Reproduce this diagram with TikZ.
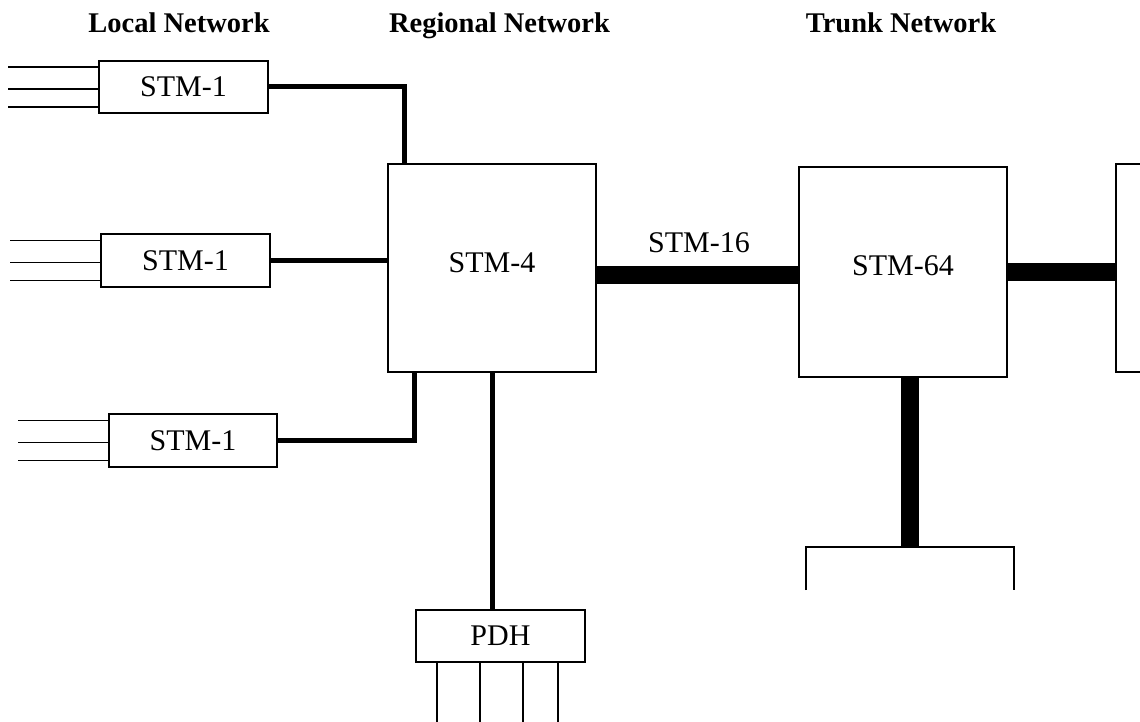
\documentclass[tikz,border=0pt]{standalone}
\usepackage{fontspec}
\setmainfont{Liberation Serif}
\usetikzlibrary{calc}

\tikzset{
  box/.style={draw=black, line width=1.5pt, fill=white, rectangle, inner sep=0pt,
              font=\fontsize{30}{32}\selectfont},
  hdr/.style={anchor=base, inner sep=0pt, font=\bfseries\fontsize{28.5}{30}\selectfont},
  lbl/.style={anchor=base, inner sep=0pt, font=\fontsize{30}{32}\selectfont},
  link/.style={line width=5pt, line join=miter},
  bar/.style={line width=18pt},
  wire/.style={line width=1.5pt}
}

\begin{document}
\begin{tikzpicture}[x=1pt, y=-1pt]
  \clip (0,0) rectangle (1140,722);
  \fill[white] (0,0) rectangle (1140,722);

  % column headings
  \node[hdr] (hlocal) at (179,33) {Local Network};
  \node[hdr] (hregional) at (499.5,33) {Regional Network};
  \node[hdr] (htrunk) at (901,33) {Trunk Network};

  % network elements
  \node[box, minimum width=169pt, minimum height=52pt] (s1a) at (183.5,87) {STM-1};
  \node[box, minimum width=169pt, minimum height=53pt] (s1b) at (185.5,260.5) {STM-1};
  \node[box, minimum width=168pt, minimum height=53pt] (s1c) at (193,440.5) {STM-1};
  \node[box, minimum width=208pt, minimum height=208pt, text depth=10pt] (stm4) at (492,268) {STM-4};
  \node[box, minimum width=208pt, minimum height=210pt, text depth=12pt] (stm64) at (903,272) {STM-64};
  \node[box, minimum width=100pt, minimum height=208pt] (trunk) at (1166,268) {};
  \node[box, minimum width=169pt, minimum height=52pt] (pdh) at (500.5,636) {PDH};

  % tributary inputs of the STM-1 multiplexers
  \foreach \n in {s1a,s1b,s1c}{
    \foreach \dy in {-20,2,20}{
      \coordinate (\n in\dy) at ($(\n.west)+(-90,\dy)$);
      \draw[wire] (\n in\dy) -- (\n.west |- \n in\dy);
    }
  }

  % STM-1 links into the STM-4 node
  \draw[link] (s1a.east) -| ([xshift=17pt]stm4.north west);
  \draw[link] (s1b.east) -- (stm4.west |- s1b.east);
  \draw[link] (s1c.east) -| ([xshift=27pt]stm4.south west);
  \draw[link] (stm4.south) -- (stm4.south |- pdh.north);

  % PDH tributaries
  \foreach \x in {437,480,523,558}{
    \coordinate (pdhout\x) at (\x,724);
    \draw[wire] (pdhout\x |- pdh.south) -- (pdhout\x);
  }

  % STM-16 link
  \coordinate (b16) at (0,275);
  \draw[bar] (stm4.east |- b16) -- (stm64.west |- b16);
  \node[lbl] (l16) at (699,252) {STM-16};

  % trunk links
  \draw[bar] (stm64.east) -- (trunk.west |- stm64.east);
  \coordinate (hub) at (910,547);
  \draw[bar] ([xshift=7pt]stm64.south) -- (hub);
  \draw[wire] ($(hub)+(-104,43)$) -- ($(hub)+(-104,0)$) -- ($(hub)+(104,0)$) -- ($(hub)+(104,43)$);
\end{tikzpicture}
\end{document}
